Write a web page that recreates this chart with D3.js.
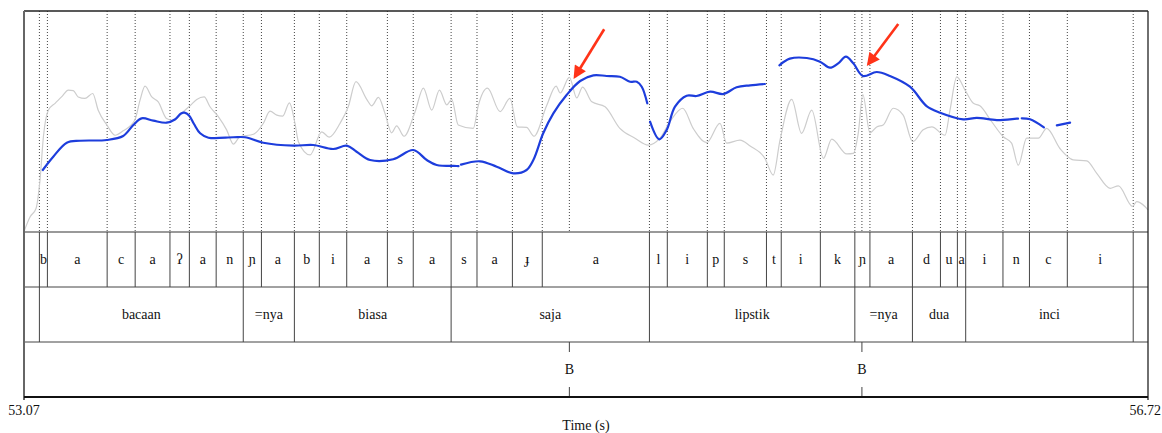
<!DOCTYPE html>
<html>
<head>
<meta charset="utf-8">
<script src="https://cdn.jsdelivr.net/npm/d3@7"></script>
<style>
  body { margin: 0; background: #fff; }
  text { font-family: "Liberation Serif", "Times New Roman", serif; fill: #111; }
</style>
</head>
<body>
<div id="chart"></div>
<script>
// time window (s)
var tStart = 53.07, tEnd = 56.72;

// phone tier
var phoneBounds = [53.070, 53.120, 53.146, 53.340, 53.431, 53.544, 53.607, 53.694, 53.782, 53.841,
  53.948, 54.029, 54.118, 54.250, 54.334, 54.457, 54.541, 54.656, 54.753, 55.101, 55.159, 55.289,
  55.344, 55.481, 55.529, 55.656, 55.768, 55.817, 55.955, 56.046, 56.101, 56.128, 56.249, 56.335,
  56.458, 56.672, 56.720];
var phoneLabels = ["", "b", "a", "c", "a", "ʔ", "a", "n", "ɲ", "a", "b", "i", "a", "s", "a", "s", "a",
  "ɟ", "a", "l", "i", "p", "s", "t", "i", "k", "ɲ", "a", "d", "u", "a", "i", "n", "c", "i", ""];

// word tier
var wordBounds = [53.070, 53.120, 53.782, 53.948, 54.457, 55.101, 55.768, 55.955, 56.128, 56.672, 56.720];
var wordLabels = ["", "bacaan", "=nya", "biasa", "saja", "lipstik", "=nya", "dua", "inci", ""];

// tone point tier
var pointTimes = [54.841, 55.791];
var pointLabels = ["B", "B"];

// pitch track (Hz), null = unvoiced gap
var pitchTime = [53.131, 53.165, 53.209, 53.252, 53.339, 53.392, 53.425, 53.452, 53.490, 53.533,
  53.560, 53.580, 53.591, 53.606, 53.622, 53.642, 53.669, 53.750, 53.788, 53.847, 53.945, 54.009,
  54.074, 54.118, 54.150, 54.194, 54.269, 54.334, 54.378, 54.410, 54.475, 54.481, null,
  54.489, 54.551, 54.605, 54.659, 54.702, 54.724, 54.756, 54.789, 54.832, 54.876, 54.919, 54.962,
  55.005, 55.038, 55.060, 55.076, 55.094, null,
  55.103, 55.133, 55.157, 55.184, 55.222, 55.254, 55.298, 55.341, 55.384, 55.428, 55.476, null,
  55.523, 55.557, 55.612, 55.655, 55.687, 55.714, 55.739, 55.763, 55.794, 55.839, 55.882, 55.947,
  56.001, 56.045, 56.120, 56.164, 56.229, 56.294, 56.298, null,
  56.310, 56.337, 56.382, null,
  56.424, 56.467];
var pitchHz = [184.2, 202.2, 221.2, 223.9, 224.9, 230.3, 245.3, 254.3, 251.1, 248.4,
  252.7, 260.9, 262.0, 258.1, 246.6, 234.0, 228.0, 228.6, 228.6, 221.2, 217.2, 218.1,
  212.7, 217.2, 209.0, 197.7, 198.7, 211.3, 197.7, 191.0, 189.6, 189.4, null,
  191.4, 196.0, 188.6, 179.7, 184.2, 197.7, 234.0, 261.1, 286.0, 305.0, 312.7, 311.8,
  310.8, 304.0, 304.0, 297.2, 274.7, null,
  249.7, 225.8, 238.5, 270.1, 285.0, 284.6, 290.5, 287.3, 296.4, 299.1, 300.9, null,
  326.3, 335.3, 336.2, 331.2, 323.0, 329.0, 338.0, 329.0, 311.8, 317.2, 311.8, 297.2,
  271.0, 262.0, 253.0, 254.8, 252.0, 253.8, 253.8, null,
  254.3, 253.0, 242.1, null,
  244.8, 248.4];

// intensity track (dB)
var intensityTime = [53.070, 53.090, 53.109, 53.122, 53.133, 53.149, 53.171, 53.192, 53.214, 53.230,
  53.246, 53.268, 53.293, 53.311, 53.339, 53.366, 53.392, 53.430, 53.447, 53.463, 53.485, 53.506,
  53.533, 53.555, 53.582, 53.609, 53.631, 53.655, 53.674, 53.701, 53.728, 53.750, 53.771, 53.815,
  53.847, 53.869, 53.891, 53.910, 53.932, 53.950, 53.961, 53.999, 54.037, 54.061, 54.096, 54.123,
  54.148, 54.183, 54.199, 54.221, 54.242, 54.264, 54.280, 54.304, 54.340, 54.367, 54.394, 54.419,
  54.443, 54.459, 54.480, 54.529, 54.545, 54.575, 54.616, 54.648, 54.672, 54.702, 54.726, 54.767,
  54.798, 54.811, 54.841, 54.865, 54.884, 54.914, 54.957, 55.005, 55.054, 55.097, 55.135, 55.168,
  55.209, 55.243, 55.287, 55.330, 55.352, 55.395, 55.428, 55.476, 55.503, 55.525, 55.563, 55.595,
  55.628, 55.666, 55.693, 55.742, 55.763, 55.779, 55.794, 55.817, 55.839, 55.860, 55.893, 55.925,
  55.956, 55.990, 56.018, 56.061, 56.077, 56.099, 56.126, 56.153, 56.174, 56.212, 56.250, 56.277,
  56.299, 56.326, 56.364, 56.391, 56.434, 56.477, 56.521, 56.553, 56.597, 56.624, 56.670, 56.683,
  56.710, 56.720];
var intensityDb = [40.1, 43.1, 44.8, 50.6, 59.4, 64.8, 66.2, 67.5, 68.9, 68.8,
  67.5, 67.2, 68.2, 64.8, 61.8, 59.7, 60.6, 62.8, 66.9, 69.7, 67.5, 66.5,
  63.1, 62.7, 64.2, 65.7, 67.0, 67.5, 65.5, 63.5, 60.8, 57.9, 59.4, 59.9,
  62.1, 64.6, 63.8, 63.6, 66.3, 62.1, 58.4, 55.7, 60.4, 59.3, 62.1, 65.5,
  70.6, 67.0, 65.7, 67.4, 64.2, 60.2, 61.6, 59.5, 64.5, 69.3, 64.8, 68.9,
  65.9, 67.0, 61.8, 61.1, 65.7, 69.3, 64.5, 67.2, 61.4, 61.3, 59.5, 65.7,
  69.7, 68.3, 71.5, 67.3, 69.5, 66.5, 65.5, 61.1, 59.1, 57.7, 59.1, 62.5,
  65.2, 61.1, 58.2, 62.1, 58.1, 58.7, 57.5, 55.0, 51.6, 58.7, 67.0, 60.1,
  64.8, 55.0, 58.9, 55.9, 56.0, 60.1, 68.0, 60.2, 61.4, 61.8, 65.2, 63.8,
  58.4, 60.8, 61.4, 59.7, 64.8, 71.6, 68.9, 66.2, 65.7, 62.5, 59.4, 58.1,
  53.6, 59.1, 59.1, 61.1, 57.0, 54.7, 54.5, 52.0, 48.9, 49.4, 45.2, 46.2,
  45.2, 44.5];

// red annotation arrows: [time, Hz] of tail and tip
var arrowTail = [[54.954, 375.2], [55.909, 382.4]];
var arrowTip = [[54.859, 310.8], [55.812, 328.1]];

var W = 1162, H = 433;
var mLeft = 24, mRight = 1148, mTop = 11, plotBottom = 232;
var tierTops = [232, 287, 342], tierH = 55, mBottom = 397;

var svg = d3.select('#chart').append('svg')
  .attr('width', W).attr('height', H);

var x = d3.scaleLinear().domain([tStart, tEnd]).range([mLeft, mRight]);
var yPitch = d3.scaleLinear().domain([100, 400]).range([plotBottom, mTop]);
var yInt = d3.scaleLinear().domain([40, 85]).range([plotBottom, mTop]);

// dotted boundary lines over the signal area
var dotted = phoneBounds.slice(1, -1).concat(pointTimes);
svg.selectAll('line.dot').data(dotted).enter().append('line')
  .attr('x1', function(d){ return x(d); }).attr('x2', function(d){ return x(d); })
  .attr('y1', mTop).attr('y2', plotBottom)
  .attr('stroke', '#444').attr('stroke-width', 1)
  .attr('stroke-dasharray', '1,2');

// intensity curve
var intPts = intensityTime.map(function(t, i){ return [t, intensityDb[i]]; });
svg.append('path')
  .datum(intPts)
  .attr('d', d3.line()
    .x(function(d){ return x(d[0]); })
    .y(function(d){ return yInt(d[1]); })
    .curve(d3.curveMonotoneX))
  .attr('fill', 'none').attr('stroke', '#cdcdcd').attr('stroke-width', 1.2);

// pitch curve
var pitchPts = pitchTime.map(function(t, i){ return [t, pitchHz[i]]; });
svg.append('path')
  .datum(pitchPts)
  .attr('d', d3.line()
    .defined(function(d){ return d[0] !== null && d[1] !== null; })
    .x(function(d){ return x(d[0]); })
    .y(function(d){ return yPitch(d[1]); })
    .curve(d3.curveCatmullRom))
  .attr('fill', 'none').attr('stroke', '#1d3ddc').attr('stroke-width', 2.2)
  .attr('stroke-linecap', 'round');

// arrows
svg.append('defs').append('marker')
  .attr('id', 'head').attr('viewBox', '0 0 10 10')
  .attr('refX', 8).attr('refY', 5)
  .attr('markerWidth', 5.5).attr('markerHeight', 5)
  .attr('orient', 'auto')
  .append('path').attr('d', 'M0,0 L10,5 L0,10 z').attr('fill', '#ff3318');

svg.selectAll('line.arrow').data(arrowTail).enter().append('line')
  .attr('x1', function(d){ return x(d[0]); })
  .attr('y1', function(d){ return yPitch(d[1]); })
  .attr('x2', function(d, i){ return x(arrowTip[i][0]); })
  .attr('y2', function(d, i){ return yPitch(arrowTip[i][1]); })
  .attr('stroke', '#ff3318').attr('stroke-width', 2.6)
  .attr('marker-end', 'url(#head)');

// tier separators
svg.append('line').attr('x1', mLeft).attr('x2', mRight).attr('y1', plotBottom).attr('y2', plotBottom)
  .attr('stroke', '#999').attr('stroke-width', 2);
[287, 342].forEach(function(y){
  svg.append('line').attr('x1', mLeft).attr('x2', mRight).attr('y1', y).attr('y2', y)
    .attr('stroke', '#444').attr('stroke-width', 1);
});

// interval tiers
function drawTier(bounds, labels, y0, baseline){
  svg.selectAll(null).data(bounds.slice(1, -1)).enter().append('line')
    .attr('x1', function(d){ return x(d); }).attr('x2', function(d){ return x(d); })
    .attr('y1', y0).attr('y2', y0 + tierH)
    .attr('stroke', '#444').attr('stroke-width', 1);
  svg.selectAll(null).data(labels).enter().append('text')
    .attr('x', function(d, i){ return (x(bounds[i]) + x(bounds[i + 1])) / 2; })
    .attr('y', baseline)
    .attr('text-anchor', 'middle')
    .attr('font-size', '14px')
    .text(function(d){ return d; });
}
drawTier(phoneBounds, phoneLabels, tierTops[0], 264);
drawTier(wordBounds, wordLabels, tierTops[1], 319);

// point tier
pointTimes.forEach(function(t, i){
  svg.append('line').attr('x1', x(t)).attr('x2', x(t)).attr('y1', 342).attr('y2', 352)
    .attr('stroke', '#444');
  svg.append('line').attr('x1', x(t)).attr('x2', x(t)).attr('y1', 387).attr('y2', 397)
    .attr('stroke', '#444');
  svg.append('text').attr('x', x(t)).attr('y', 374)
    .attr('text-anchor', 'middle').attr('font-size', '14px')
    .text(pointLabels[i]);
});

// frame
svg.append('line').attr('x1', mLeft).attr('x2', mRight).attr('y1', mTop).attr('y2', mTop)
  .attr('stroke', '#222').attr('stroke-width', 1.5);
svg.append('line').attr('x1', mLeft).attr('x2', mLeft).attr('y1', mTop).attr('y2', mBottom + 3)
  .attr('stroke', '#666').attr('stroke-width', 2);
svg.append('line').attr('x1', mRight).attr('x2', mRight).attr('y1', mTop).attr('y2', mBottom + 3)
  .attr('stroke', '#222').attr('stroke-width', 1.3);
svg.append('line').attr('x1', mLeft).attr('x2', mRight).attr('y1', mBottom).attr('y2', mBottom)
  .attr('stroke', '#111').attr('stroke-width', 2);

// time labels
svg.append('text').attr('x', x(tStart)).attr('y', 415).attr('text-anchor', 'middle')
  .attr('font-size', '14px').text(tStart.toFixed(2));
svg.append('text').attr('x', W - 1).attr('y', 415).attr('text-anchor', 'end')
  .attr('font-size', '14px').text(tEnd.toFixed(2));
svg.append('text').attr('x', (mLeft + mRight) / 2).attr('y', 430).attr('text-anchor', 'middle')
  .attr('font-size', '14px').text('Time (s)');
</script>
</body>
</html>
